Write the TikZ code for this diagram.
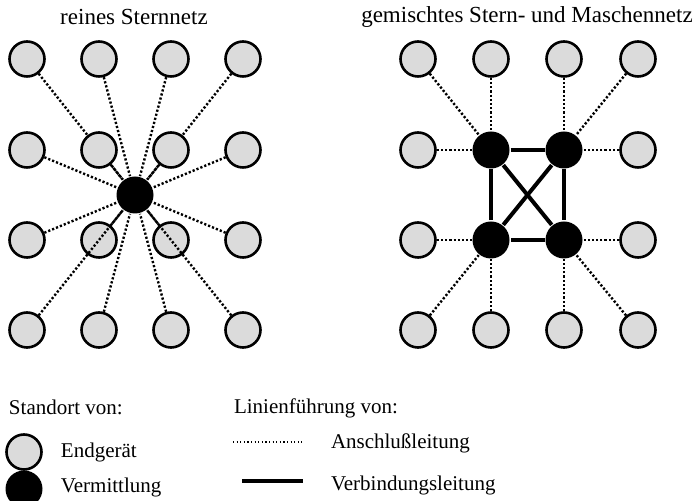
\documentclass[tikz,border=0pt]{standalone}
\usepackage{fontspec}
\setmainfont{Liberation Serif}
\usetikzlibrary{positioning}
\tikzset{every picture/.style={line width=1pt}}

\begin{document}
\begin{tikzpicture}[x=0.5pt, y=-0.5pt,
every node/.style={font=\fontsize{10.5}{12}\selectfont},
title/.style={font=\fontsize{11.5}{14}\selectfont},
leg/.style={anchor=west, inner sep=0pt},
end/.style={circle, draw, line width=1.3pt, fill=black!14, minimum size=17.5pt, inner sep=0pt},
sw/.style={circle, fill=black, minimum size=18.5pt, inner sep=0pt},
acc/.style={line width=1.2pt, dash pattern=on 1.1pt off 1pt},
trunk/.style={line width=2pt}]

\useasboundingbox (0,0) rectangle (697,501);

% reines Sternnetz
\node[title] (tl) at (134,17) {reines Sternnetz};
\node[sw] (lv) at (135,195) {};
\foreach \r/\y in {1/59,2/150,3/240,4/330}
 \foreach \c/\x in {1/27,2/99,3/171,4/243}
 { \node[end] (l\r\c) at (\x,\y) {};
   \draw[acc] (l\r\c) -- (lv); }

% gemischtes Stern- und Maschennetz
\node[title] (tr) at (527,17) {gemischtes Stern- und Maschennetz};
\node[sw] (v22) at (491,150) {};
\node[sw] (v23) at (564,150) {};
\node[sw] (v32) at (491,240) {};
\node[sw] (v33) at (564,240) {};

\foreach \n/\x/\y/\v in {11/418/59/22, 12/491/59/22, 13/564/59/23, 14/638/59/23,
  21/418/150/22, 24/638/150/23, 31/418/240/32, 34/638/240/33,
  41/418/330/32, 42/491/330/32, 43/564/330/33, 44/638/330/33}
{ \node[end] (r\n) at (\x,\y) {};
  \draw[acc] (r\n) -- (v\v); }

\foreach \a/\b in {22/23, 23/33, 33/32, 32/22, 22/33, 23/32}
 \draw[trunk] (v\a) -- (v\b);

% Legende
\node[leg] (st) at (8,407) {Standort von:};
\node[end] (le) at (24,452) {};
\node[leg] (lte) at (60,452) {Endgerät};
\node[sw] (lw) at (24,489) {};
\node[leg] (ltw) at (60,487) {Vermittlung};

\node[leg] (lf) at (233,408) {Linienführung von:};
\coordinate (a1) at (233,442);
\coordinate (a2) at (302,442);
\draw[line width=0.6pt, dash pattern=on 0.6pt off 1.2pt] (a1) -- (a2);
\node[leg] (lta) at (330,443) {Anschlußleitung};
\coordinate (b1) at (242,481);
\coordinate (b2) at (303,481);
\draw[trunk] (b1) -- (b2);
\node[leg] (ltb) at (330,485) {Verbindungsleitung};

\end{tikzpicture}
\end{document}
